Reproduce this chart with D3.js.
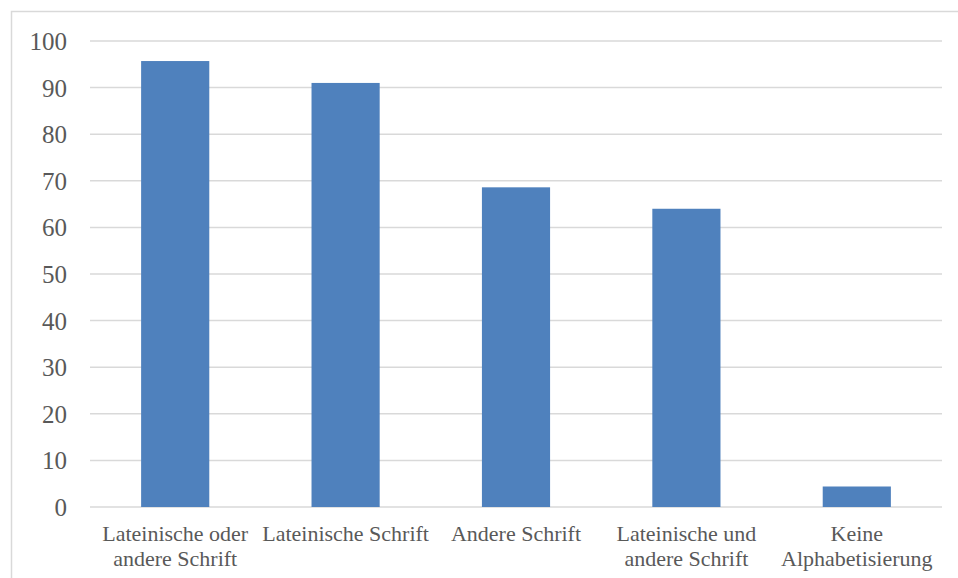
<!DOCTYPE html>
<html>
<head>
<meta charset="utf-8">
<script src="https://cdn.jsdelivr.net/npm/d3@7"></script>
<style>
  html, body { margin: 0; padding: 0; background: #ffffff; }
  svg { display: block; }
</style>
</head>
<body>
<svg id="chart" width="958" height="578"></svg>
<script>
// Alphabetisierung nach Schrift (Prozent)
const categories = [
  ["Lateinische oder", "andere Schrift"],
  ["Lateinische Schrift"],
  ["Andere Schrift"],
  ["Lateinische und", "andere Schrift"],
  ["Keine", "Alphabetisierung"]
];
const values = [95.7, 91.0, 68.6, 64.0, 4.4];
const yTicks = [0, 10, 20, 30, 40, 50, 60, 70, 80, 90, 100];

const svg = d3.select("#chart");
const W = 958, H = 578;
const plot = { left: 90, right: 942, top: 41, bottom: 507 };
const textColor = "#595959";
const gridColor = "#d9d9d9";
const barColor = "#4f81bd";
const fontFamily = "Liberation Serif, serif";

// chart frame (top and left edges)
svg.append("path")
  .attr("d", `M11.5,${H + 2} L11.5,11.5 L${W + 2},11.5`)
  .attr("fill", "none")
  .attr("stroke", gridColor)
  .attr("stroke-width", 1.5);

const x = d3.scaleBand()
  .domain(d3.range(categories.length))
  .range([plot.left, plot.right])
  .paddingInner(0)
  .paddingOuter(0);

const y = d3.scaleLinear()
  .domain([0, 100])
  .range([plot.bottom, plot.top]);

// horizontal gridlines
svg.append("g")
  .selectAll("line")
  .data(yTicks)
  .join("line")
  .attr("x1", plot.left)
  .attr("x2", plot.right)
  .attr("y1", d => y(d))
  .attr("y2", d => y(d))
  .attr("stroke", gridColor)
  .attr("stroke-width", 1.5);

// y axis labels
const yAxis = d3.axisLeft(y).tickValues(yTicks).tickSize(0).tickPadding(0);
const yG = svg.append("g")
  .attr("transform", `translate(67,0)`)
  .call(yAxis);
yG.select(".domain").remove();
yG.selectAll("text")
  .attr("fill", textColor)
  .style("font-family", fontFamily)
  .style("font-size", "25px")
  .attr("dy", "0.34em");

// bars
const barW = x.bandwidth() * 0.4;
svg.append("g")
  .selectAll("rect")
  .data(values)
  .join("rect")
  .attr("x", (d, i) => x(i) + x.bandwidth() / 2 - barW / 2)
  .attr("y", d => y(d))
  .attr("width", barW)
  .attr("height", d => y(0) - y(d))
  .attr("fill", barColor);

// category labels
const labels = svg.append("g")
  .selectAll("text")
  .data(categories)
  .join("text")
  .attr("x", (d, i) => x(i) + x.bandwidth() / 2)
  .attr("y", 541)
  .attr("text-anchor", "middle")
  .attr("fill", textColor)
  .style("font-family", fontFamily)
  .style("font-size", "22px");
labels.selectAll("tspan")
  .data(d => d)
  .join("tspan")
  .attr("x", function () { return d3.select(this.parentNode).attr("x"); })
  .attr("dy", (d, i) => i === 0 ? 0 : 25)
  .text(d => d);
</script>
</body>
</html>
